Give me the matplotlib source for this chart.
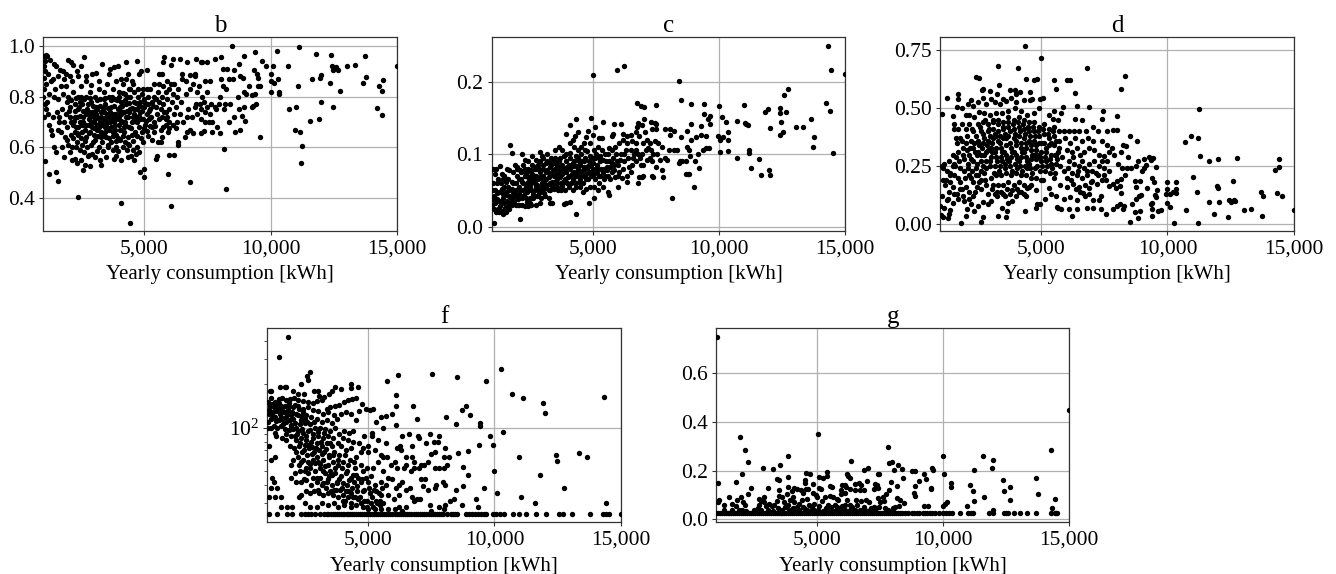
import matplotlib
matplotlib.use('Agg')
import matplotlib.pyplot as plt
import numpy as np
from matplotlib.ticker import NullFormatter, StrMethodFormatter

plt.rcParams['font.family'] = ['Liberation Serif', 'DejaVu Serif']

# Values: (yearly consumption, metric)
b_points = [
 (8480,1.0),(11120,.997),(10260,.98),(9400,.977),(11800,.97),(12400,.965),(13730,.96),(10700,.922),(12430,.922),(12450,.905),(12600,.915),(12650,.905),
 (13040,.92),(13330,.925),(15000,.92),(11620,.868),(11950,.873),(12000,.885),(13760,.876),(14450,.866),(14300,.84),(14400,.823),(13660,.853),(12370,.855),
 (12750,.822),(11070,.84),(12000,.78),(10720,.75),(11000,.76),(12450,.76),(14220,.756),(14400,.728),(11930,.712),(11570,.703),(10970,.667),(11180,.66),
 (11260,.607),(11210,.537),(9580,.64),(8240,.435),(8150,.593),(6800,.465),(6080,.37),(5950,.495),(4430,.302),(4090,.381),(2400,.405),(1580,.466),(1530,.503),
 (1220,.496),(1060,.546),(5000,.513),(5000,.482),(4830,.502),(6200,.57),(6000,.57),(10000,.82),(10000,.89),(10100,.92),(10030,.86),(10150,.855),(10300,.87),
 (10320,.82),(10330,.81),(9800,.92),(9650,.94),(9470,.89),(9350,.905),(9500,.875),(9520,.84),(9600,.84),(9400,.81),(9280,.805),(9320,.765),(9420,.77),
 (9260,.76),(8950,.76),(9000,.705),(8760,.75),(8870,.725),(8600,.66),(8780,.668),(8550,.72),(8350,.7),(8700,.8),(9030,.81),(8950,.82),(8750,.93),(8930,.96),
 (8560,.905),(8360,.87),(8500,.87),(8100,.91),(8280,.91),(8050,.955),(7800,.95),(8900,.875),(8800,.88),(9150,.84),(8250,.83),(8050,.87),(8100,.84),(8000,.80),
 (8200,.77),(8400,.77),(8150,.75),(7900,.68),(7700,.70),(7550,.70),(7400,.70),(7250,.71),(7100,.73),(7950,.77),(7800,.76),(7650,.77),(7500,.76),(7350,.78),
 (7200,.77),(7050,.77),(7850,.75),(7600,.73),(7400,.74),(7250,.75),(7000,.76),(7700,.66),(8000,.655),(7350,.665),(7250,.655),(6950,.655),(6800,.67),(6700,.66),
 (6600,.64),(6350,.62),(6320,.61),(6900,.72),(6700,.72),(6550,.70),(6750,.75),(7100,.82),(7300,.80),(7500,.82),(7600,.86),(7400,.86),(7150,.84),(6950,.85),
 (6800,.83),(6650,.81),(7000,.89),(7000,.88),(6800,.885),(6650,.86),(6500,.89),(6700,.935),(7500,.935),(7300,.937),(7230,.937),(7040,.95),(6400,.95),(6130,.95),
 (5800,.955),(6050,.925),(5750,.935),(5700,.89),(5600,.89),(5100,.905),(4870,.90),(4800,.89),(4700,.94),(4300,.935),(6500,.87),(6350,.83),(6200,.85),(6050,.85),
 (5900,.86),(5750,.84),(5600,.85),(5400,.85),(5250,.83),(5100,.83),(4950,.83),(6300,.80),(6150,.81),(6000,.83),(5850,.82),(5700,.80),(5550,.82),(5400,.80),
 (6450,.78),(6250,.76),(6100,.78),(5900,.79),(5750,.77),(5600,.78),(5450,.76),(6400,.73),(6200,.73),(6000,.75),(5850,.74),(5650,.75),(5500,.73),(6300,.70),
 (6150,.69),(6000,.70),(5850,.71),(5700,.72),(6250,.675),(6000,.675),(5850,.69),(5750,.68),(5700,.64),(5550,.62),(5500,.565),(5450,.555),(5950,.66),(5650,.62),
 (5400,.66),(5300,.63),(5150,.645),(4950,.62),(5300,.68),(5400,.70),(5200,.71),(5050,.69),(4900,.66),(5250,.75),(5100,.73),(4950,.71),(4800,.68),(5300,.78),
 (5150,.77),(5000,.76),(4850,.74),(4700,.70),(5150,.80),(5000,.79),(4850,.78),(4700,.75),(4550,.72),(4400,.68),(4900,.81),(4750,.80),(4600,.78),(4450,.75),
 (4300,.72),(4150,.70),(4750,.83),(4600,.82),(4450,.80),(4300,.77),(4150,.74),(4000,.72),(3850,.69),(4550,.85),(4400,.83),(4250,.81),(4100,.78),(3950,.75),
 (3800,.73),(3650,.70),(4300,.87),(4150,.85),(4000,.82),(3850,.79),(3700,.76),(3550,.73),(3400,.71),(3900,.86),(3750,.83),(3600,.80),(3450,.77),(3300,.74),
 (3150,.72),(3000,.70),(3550,.85),(3400,.82),(3250,.79),(3100,.76),(2950,.74),(2800,.71),(2650,.69),(3200,.83),(3050,.80),(2900,.78),(2750,.75),(2600,.72),
 (2450,.70),(2300,.68),(2850,.82),(2700,.80),(2550,.77),(2400,.75),(2250,.72),(2100,.70),(1950,.68),(4650,.66),(4500,.65),(4350,.64),(4200,.66),(4050,.67),
 (3900,.65),(3750,.66),(3600,.67),(3450,.68),(3300,.66),(3150,.67),(3000,.65),(2850,.66),(2700,.64),(2550,.66),(2400,.65),(2250,.66),(2100,.65),(1950,.63),
 (4700,.60),(4550,.59),(4400,.61),(4250,.62),(4050,.63),(3900,.60),(3700,.62),(3500,.64),(3350,.62),(3200,.60),(3050,.63),(2900,.61),(2750,.60),(2550,.61),
 (2350,.62),(2150,.60),(2000,.61),(4800,.58),(4600,.55),(4350,.56),(4100,.55),(3900,.565),(3800,.555),(3500,.56),(3300,.53),(3250,.55),(3050,.56),(2850,.525),
 (2800,.57),(2650,.53),(2600,.51),(2500,.55),(2350,.54),(2250,.555),(2150,.55),(2050,.58),(1850,.56),(1500,.58),(1750,.60),(1450,.60),(1350,.65),(1250,.69),
 (1300,.67),(1600,.67),(1650,.70),(1400,.72),(1550,.74),(1750,.75),(1900,.73),(2050,.76),(2250,.77),(2450,.78),(1200,.73),(1100,.75),(1020,.72),(1060,.77),
 (1150,.78),(1000,.80),(1240,.81),(1420,.80),(1600,.79),(1800,.81),(2000,.80),(2200,.82),(2500,.84),(2700,.86),(2950,.89),(3100,.895),(1050,.83),(1100,.85),
 (1300,.86),(1480,.83),(1700,.84),(1900,.84),(2150,.86),(2400,.88),(2700,.88),(1020,.875),(1200,.89),(1380,.87),(1600,.88),(1850,.87),(2050,.88),(2350,.90),
 (1040,.96),(1080,.94),(1100,.965),(1170,.96),(1030,.92),(1080,.90),(1290,.945),(1420,.93),(1520,.92),(1660,.905),(1800,.90),(1900,.89),(2000,.945),(2100,.935),
 (2200,.925),(2640,.955),(2500,.92),(3350,.93),(3650,.91),(3800,.915),(3950,.92),(3600,.89),(4100,.87),(4350,.89),(4520,.86),(2900,.845),(3200,.86),
 (2500,.80),(2350,.72),(2700,.73),(2800,.74),(2950,.68),(3100,.73),(3250,.70),(3350,.69),(3500,.72),(3650,.74),(3800,.70),(3950,.71),(4100,.73),(4250,.70),
 (4400,.74),(4600,.73),(2600,.70),(2850,.72),(3050,.71),(3200,.68),(3400,.74),(3550,.70),(3700,.68),(3900,.73),(4050,.76),(4200,.74),(4350,.72),(4500,.70),
 (4700,.72),(4850,.71),(2200,.69),(2400,.68),(2650,.67),(2900,.70),(3150,.75),(3300,.72),(3450,.66),(3600,.72),(3750,.71),(3850,.67),(4000,.69),(4200,.68),
]
b_core = [
 (2030,.745),(2120,.785),(2210,.705),(2290,.795),(2330,.655),(2420,.76),(2480,.725),(2510,.635),(2570,.745),(2630,.79),(2660,.625),(2720,.69),(2770,.77),(2810,.655),(2870,.795),(2920,.725),
 (2970,.765),(3020,.675),(3070,.745),(3120,.785),(3160,.645),(3210,.715),(3270,.765),(3320,.695),(3370,.755),(3420,.645),(3470,.795),(3510,.685),(3570,.755),(3620,.635),(3680,.785),(3720,.725),
 (3770,.645),(3820,.765),(3870,.715),(3920,.785),(3980,.635),(4030,.745),(4080,.705),(4130,.765),(4170,.645),(4230,.785),(4280,.685),(4330,.745),(4380,.615),(4420,.775),(4480,.675),(4530,.755),
 (4570,.625),(4630,.705),(4680,.775),(4730,.645),(4780,.725),(4830,.765),(4880,.635),(4930,.745),(4980,.675),(5030,.775),(5080,.705),(5130,.665),(5180,.745),(5230,.685),(5280,.72),(5350,.765),
 (5430,.685),(5480,.79),(5580,.71),(5660,.67),(5780,.74),(5920,.72),(2180,.635),(2280,.745),(2380,.80),(2540,.69),(2680,.745),(2820,.69),(2990,.62),(3130,.69),(3280,.64),(3430,.79),(3590,.61),
 (3730,.80),(3880,.625),(4010,.80),(4160,.815),(4320,.80),(4460,.83),(4610,.75),(4760,.77),(1950,.78),(1830,.70),(1700,.66),(1880,.64),(2080,.72),(1620,.72),(2300,.60),(2470,.59),(2640,.58),(2780,.565),
 (2950,.575),(3130,.585),(3380,.585),(3570,.60),(3780,.59),(3970,.585),(4170,.60),(4330,.59),(4480,.565),(4660,.575),
]
c_points = [
 (14300,.249),(14420,.216),(15000,.211),(6230,.221),(5950,.216),(5000,.209),(8400,.201),(12750,.19),(12580,.181),(8480,.174),(6750,.171),(6920,.166),(7030,.165),
 (7500,.168),(8900,.169),(9400,.169),(10000,.166),(11000,.167),(14250,.17),(14400,.16),(11830,.158),(11950,.162),(12430,.163),(12420,.157),(12660,.158),
 (10120,.151),(9630,.152),(9400,.155),(9550,.148),(13640,.149),(10700,.145),(11020,.143),(11080,.141),(11160,.14),(12020,.136),(12450,.144),(13030,.137),
 (13330,.138),(10260,.144),(9650,.142),(9300,.139),(8900,.142),(7040,.148),(6800,.143),(6750,.137),(6950,.14),(7300,.144),(7500,.142),(7450,.143),(4920,.15),
 (4350,.148),(5100,.137),(5400,.144),(5850,.141),(6100,.142),(4100,.14),(3950,.128),(4400,.13),(4300,.125),(4200,.12),(4800,.132),(5000,.127),(4750,.123),
 (4650,.115),(5250,.122),(5350,.122),(5800,.128),(5750,.125),(6200,.128),(6350,.125),(6500,.126),(6700,.13),(7050,.13),(7350,.135),(7500,.134),(7850,.135),
 (8050,.135),(8200,.132),(8720,.132),(8050,.127),(8500,.124),(9300,.127),(9480,.125),(9100,.124),(9950,.125),(10030,.12),(10150,.123),(10350,.13),(10340,.12),
 (10350,.104),(10020,.103),(12420,.127),(12520,.13),(13780,.123),(13720,.11),(14520,.102),(11190,.106),(11190,.101),(10720,.095),(11600,.093),(11250,.081),
 (11650,.071),(11970,.078),(12020,.071),(8150,.039),(9000,.055),(8830,.073),(8700,.073),(8760,.072),(9220,.081),(9030,.09),(9380,.105),(9500,.108),(9620,.108),
 (9170,.1),(8800,.105),(8850,.098),(8900,.12),(8720,.11),(8450,.09),(8540,.091),(8400,.088),(8700,.09),(8350,.105),(8200,.105),(8000,.105),(7850,.095),(7950,.092),
 (7750,.11),(7600,.115),(7450,.118),(7300,.105),(7150,.12),(7000,.115),(6850,.125),(6700,.115),(6550,.118),(7400,.10),(7250,.095),(7100,.105),(6950,.10),(6800,.10),
 (6650,.10),(6500,.105),(6350,.115),(6200,.12),(6050,.115),(5900,.11),(5750,.105),(5600,.10),(7350,.09),(7150,.092),(7000,.085),(7500,.082),(7750,.078),(7800,.069),
 (7400,.068),(7350,.07),(6950,.068),(6850,.068),(6800,.06),(7000,.07),(6900,.085),(6700,.09),(6550,.085),(6400,.095),(6250,.10),(6100,.10),(5950,.09),(5800,.095),
 (5650,.09),(5500,.10),(5350,.105),(5200,.11),(5050,.105),(4900,.115),(4700,.105),(4550,.11),(4400,.105),(4250,.11),(4100,.115),(3950,.10),(3800,.105),(3650,.11),
 (3500,.105),(3350,.095),(3200,.10),(3050,.095),(2900,.103),(2750,.092),(2600,.098),(2450,.09),(2300,.092),(2200,.10),(6500,.075),(6350,.07),(6350,.062),(6200,.08),
 (6050,.075),(5900,.068),(5750,.075),(5600,.07),(5450,.08),(5300,.09),(5150,.085),(5000,.095),(4850,.09),(4700,.095),(4550,.09),(4400,.095),(4250,.09),(4100,.095),
 (3950,.09),(3800,.085),(3650,.09),(3500,.095),(3350,.085),(3200,.09),(3050,.085),(2900,.09),(2750,.08),(2600,.085),(2450,.08),(2300,.08),(2150,.075),(2000,.08),
 (6000,.054),(5650,.043),(5600,.048),(5450,.065),(5300,.07),(5150,.075),(5000,.08),(4850,.075),(4700,.08),(4550,.075),(4400,.08),(4250,.075),(4100,.08),(3950,.075),
 (3800,.072),(3650,.078),(3500,.08),(3350,.072),(3200,.078),(3050,.07),(2900,.075),(2750,.07),(2600,.072),(2450,.068),(2300,.07),(2150,.065),(2000,.07),(1850,.075),
 (1700,.078),(5400,.055),(5250,.06),(5100,.065),(4950,.07),(4800,.065),(4650,.07),(4500,.065),(4350,.07),(4200,.065),(4050,.07),(3900,.065),(3750,.06),(3600,.065),
 (3450,.07),(3300,.06),(3150,.065),(3000,.06),(2850,.065),(2700,.06),(2550,.06),(2400,.058),(2250,.06),(2100,.055),(1950,.06),(1800,.062),(1650,.065),(1500,.07),
 (5050,.04),(4850,.032),(4600,.048),(4750,.052),(4500,.055),(4350,.055),(4200,.05),(4050,.055),(3900,.05),(3750,.05),(3600,.055),(3450,.052),(3300,.05),(3150,.053),
 (3000,.05),(2850,.052),(2700,.05),(2550,.05),(2400,.048),(2250,.05),(2100,.045),(1950,.05),(1800,.052),(1650,.055),(1500,.055),(1350,.06),(1200,.06),(1050,.06),
 (4100,.034),(3950,.032),(3850,.031),(4340,.017),(2120,.01),(1100,.005),(3400,.032),(3250,.04),(3100,.042),(2950,.04),(2800,.042),(2650,.04),(2500,.04),(2350,.04),
 (2200,.04),(2050,.038),(1900,.042),(1750,.04),(1600,.043),(1450,.045),(1300,.048),(1150,.05),(1020,.05),(3300,.032),(2900,.032),(2750,.03),(2550,.03),(2450,.028),
 (2300,.028),(2100,.03),(1950,.03),(1800,.03),(1650,.028),(1500,.033),(1350,.035),(1200,.038),(1050,.038),(1400,.022),(1550,.02),(1250,.025),(1100,.025),(1030,.03),
 (1180,.02),(1300,.02),(1450,.018),(1700,.024),(1050,.08),(1180,.08),(1340,.084),(1470,.07),(1450,.065),(1600,.08),(1730,.113),(1820,.102),(1930,.085),(2000,.082),
 (2120,.078),(2250,.085),(2400,.075),(2550,.07),(2700,.08),(2850,.085),(3000,.098),(3150,.075),(3300,.082),(3450,.09),(3600,.085),(3750,.082),(3900,.08),(4050,.085),
 (4200,.083),(4350,.083),(4500,.085),(4650,.082),(4800,.082),(4950,.085),(5100,.095),(5250,.095),(5400,.075),(5550,.082),(5700,.082),(5850,.085),(6000,.085),
 (2350,.055),(2500,.065),(2650,.067),(2800,.058),(2950,.067),(3100,.058),(3250,.068),(3400,.062),(3550,.073),(3700,.068),(3850,.075),(4000,.06),(4150,.06),(4300,.06),
 (4450,.062),(4600,.06),(4750,.072),(4900,.055),(5050,.055),(5200,.05),
]
c_core = [
 (1090,.042),(1140,.032),(1210,.047),(1270,.036),(1330,.028),(1390,.052),(1440,.04),(1510,.026),(1570,.048),(1620,.036),(1690,.05),(1760,.033),(1830,.047),(1880,.036),(1960,.043),(2030,.03),
 (2080,.066),(2140,.05),(2200,.062),(2270,.044),(2330,.076),(2380,.034),(2440,.062),(2510,.054),(2570,.078),(2630,.045),(2680,.066),(2740,.056),(2790,.084),(2860,.046),(2920,.068),(2980,.056),
 (3030,.08),(3080,.047),(3140,.088),(3190,.058),(3260,.074),(3310,.088),(3370,.056),(3430,.078),(3480,.062),(3540,.086),(3600,.06),(3660,.072),(3710,.094),(3770,.056),(3820,.079),(3880,.098),
 (3930,.062),(3990,.082),(4040,.068),(4090,.101),(4160,.072),(4210,.088),(4270,.062),(4320,.098),(4380,.075),(4440,.09),(4490,.07),(4540,.1),(4610,.078),(4670,.09),(4720,.066),(4780,.104),
 (4830,.083),(4890,.098),(4940,.076),(5010,.088),(5060,.072),(5120,.1),(5170,.081),(5230,.07),(5290,.098),(5340,.08),(5410,.092),(5470,.07),(5520,.09),(5580,.078),(5640,.108),(5700,.065),
 (5780,.088),(5840,.078),(5920,.1),(6000,.07),(6080,.092),(6150,.067),(6230,.09),(6320,.105),(6420,.082),(6580,.095),(6720,.105),(6860,.095),(7200,.108),(7280,.115),(7550,.1),(7680,.092),
 (1120,.072),(1260,.066),(1400,.072),(1560,.062),(1680,.042),(1840,.06),(1990,.042),(2180,.03),(2360,.052),(2520,.032),(2700,.07),(2890,.08),(3070,.062),(3280,.05),(3460,.06),(3640,.05),(3830,.062),
]
d_points = [
 (4350,.77),(5000,.715),(3300,.68),(4060,.675),(6820,.675),(8300,.64),(2400,.635),(2550,.63),(4400,.625),(4700,.62),(4850,.625),(5500,.62),(6000,.62),(6120,.62),
 (3330,.60),(5570,.585),(8150,.585),(6350,.565),(1720,.56),(2680,.585),(2650,.58),(2950,.575),(3250,.56),(3750,.58),(3950,.58),(4150,.57),(4550,.57),(4000,.56),
 (1250,.545),(1720,.54),(2200,.535),(2680,.545),(3000,.54),(3500,.54),(3800,.545),(4650,.54),(4950,.54),(5050,.545),(6400,.51),(6900,.505),(7450,.49),(5850,.505),
 (1050,.475),(1500,.465),(1650,.505),(1850,.50),(2100,.52),(2300,.51),(2500,.525),(2800,.52),(3150,.525),(3350,.52),(3600,.53),(4000,.525),(4300,.535),(4550,.535),
 (4900,.50),(5500,.49),(5800,.48),(6350,.455),(6600,.45),(7400,.455),(8000,.465),(11250,.495),(1550,.43),(1550,.41),(1620,.37),(1650,.35),(1850,.43),(2000,.47),
 (2150,.47),(2350,.46),(2550,.485),(2750,.48),(2950,.47),(3200,.48),(3450,.48),(3700,.49),(3950,.50),(4200,.49),(4450,.47),(4700,.48),(5300,.47),(5450,.455),(5650,.45),
 (5900,.40),(6100,.40),(6300,.40),(6500,.40),(6780,.40),(7050,.42),(7250,.40),(7600,.40),(7850,.405),(8000,.405),(8500,.38),(8250,.34),(8800,.36),(8350,.335),
 (10950,.38),(10700,.355),(11200,.37),(11300,.295),(11650,.27),(12000,.28),(12750,.285),(14420,.28),(14400,.245),(14250,.235),(14320,.135),(14520,.12),(13720,.14),
 (13800,.12),(13740,.035),(13300,.065),(13030,.06),(15000,.06),(12580,.185),(12420,.105),(12500,.095),(12650,.105),(12680,.10),(12400,.03),(12030,.095),(12020,.155),
 (11980,.165),(11830,.045),(11630,.095),(11220,.005),(11150,.14),(11000,.205),(10720,.06),(10250,.005),(10350,.18),(10350,.15),(10320,.135),(10230,.14),(10080,.13),
 (10000,.18),(10000,.15),(9950,.13),(10000,.09),(10100,.075),(9600,.145),(9550,.245),(9430,.285),(9350,.275),(9270,.29),(9150,.255),(9380,.20),(9450,.18),(9500,.125),
 (9550,.115),(9620,.055),(9750,.06),(9400,.09),(9350,.085),(9390,.065),(9400,.035),(8850,.025),(8930,.055),(8700,.05),(8520,.01),(8600,.085),(8750,.11),(8860,.12),
 (8950,.125),(9180,.155),(8760,.16),(8930,.185),(8700,.185),(9000,.23),(9050,.24),(8850,.27),(9050,.28),(8760,.25),(8430,.29),(8550,.24),(8400,.24),(8200,.24),
 (8300,.21),(8150,.195),(8000,.185),(7950,.155),(8100,.165),(8150,.135),(8280,.08),(8100,.085),(8000,.08),(7830,.065),(8250,.065),(7570,.045),(7350,.065),(7050,.105),
 (7300,.105),(7350,.12),(7050,.07),(6820,.07),(6430,.065),(6220,.035),(6100,.065),(5800,.065),(5680,.07),(5630,.075),(5400,.13),(4950,.085),(4850,.085),(4800,.07),
 (4350,.055),(3650,.055),(3600,.03),(3300,.035),(2620,.01),(2700,.03),(1830,.005),(2000,.035),(1100,.03),(1300,.025),(1150,.07),(1400,.06),(1000,.08),(1350,.045),
 (1040,.04),(1250,.105),(1500,.09),(1700,.11),(1900,.12),(2050,.065),(2200,.085),(2350,.055),(2500,.08),(2700,.095),(2900,.085),(3000,.10),(3250,.12),(3450,.07),
 (3500,.13),(3700,.09),(3850,.10),(4100,.14),(4300,.13),(4450,.155),(4600,.17),(4800,.145),(5050,.19),(5150,.11),(5300,.155),(5500,.20),(5600,.12),(5750,.17),(5900,.11),
 (6000,.16),(6120,.115),(6250,.175),(6400,.105),(6500,.16),(6650,.135),(6750,.12),(6900,.155),(7000,.185),(7200,.175),(7400,.19),(7550,.19),(7700,.165),(7850,.175),
 (6000,.32),(6200,.31),(6400,.33),(6550,.30),(6700,.31),(6900,.33),(7100,.32),(7300,.30),(7500,.295),(7700,.31),(7900,.30),(8050,.26),(8150,.31),(6100,.27),(6300,.26),
 (6500,.25),(6700,.24),(6900,.26),(7100,.27),(7300,.25),(7500,.24),(7700,.23),(6200,.22),(6400,.21),(6600,.20),(6800,.21),(7000,.23),(7250,.21),(7500,.21),(5950,.37),
 (6150,.35),(6350,.37),(6600,.36),(6850,.37),(7050,.36),(7400,.36),(7600,.34),(7800,.33),
 (1050,.25),(1150,.26),(1250,.23),(1400,.22),(1550,.21),(1700,.20),(1800,.18),(1100,.19),(1200,.17),(1350,.14),(1500,.16),(1650,.13),(1850,.15),(2000,.16),(2150,.14),
 (2300,.18),(2450,.16),(2600,.19),(1050,.12),(1300,.11),(1600,.25),(1350,.27),(1500,.30),(1700,.31),(1900,.33),(1850,.36),(2050,.38),(2000,.41),(2150,.43),(2300,.40),
 (2500,.43),(2700,.44),(2900,.43),(3100,.45),(3300,.45),(3500,.44),(3700,.46),(3900,.45),(4100,.46),(4300,.45),(4500,.44),(4700,.44),(4900,.42),(5100,.43),(5300,.41),
 (5500,.42),(5700,.40),(1950,.28),(2150,.30),(2300,.33),(2500,.36),(2700,.39),(2900,.40),(3100,.41),(3300,.40),(3500,.41),(3700,.42),(3900,.41),(4100,.42),(4300,.41),
 (4500,.40),(4700,.40),(4900,.38),(5100,.39),(5300,.37),(5500,.38),(5700,.36),(2100,.24),(2300,.27),(2500,.31),(2700,.35),(2900,.36),(3100,.37),(3300,.36),(3500,.37),
 (3700,.38),(3900,.37),(4100,.38),(4300,.37),(4500,.36),(4700,.36),(4900,.35),(5100,.35),(5300,.34),(5500,.34),(5700,.33),(2200,.20),(2400,.24),(2600,.27),(2800,.31),
 (3000,.33),(3200,.33),(3400,.33),(3600,.34),(3800,.33),(4000,.34),(4200,.33),(4400,.33),(4600,.32),(4800,.32),(5000,.31),(5200,.31),(5400,.30),(5600,.30),(2400,.21),
 (2600,.23),(2800,.27),(3000,.29),(3200,.29),(3400,.29),(3600,.30),(3800,.29),(4000,.30),(4200,.29),(4400,.29),(4600,.28),(4800,.28),(5000,.27),(5200,.27),(5400,.26),
 (5600,.26),(2550,.18),(2750,.22),(2950,.25),(3150,.25),(3350,.25),(3550,.26),(3750,.25),(3950,.26),(4150,.25),(4350,.25),(4550,.24),(4750,.24),(4950,.23),(5150,.23),
 (5350,.22),(5550,.22),(2800,.17),(3000,.20),(3200,.21),(3400,.21),(3600,.22),(3800,.21),(4000,.22),(4200,.21),(4400,.21),(4600,.20),(4800,.20),(5000,.19),(3050,.15),
 (3300,.17),(3500,.17),(3700,.18),(3900,.17),(4100,.18),(4300,.17),(4500,.16),(3150,.13),(3400,.14),(3650,.15),(3850,.145),(4050,.15),
 (2650,.33),(2850,.34),(3050,.31),(3250,.27),(3450,.31),(3650,.28),(3850,.31),(4050,.28),(4250,.31),(4450,.27),(4650,.30),(4850,.30),(2600,.40),(2750,.30),(2950,.38),
 (3150,.39),(3350,.38),(3550,.39),(3750,.40),(3950,.39),(4150,.40),(4350,.39),(4550,.38),(4750,.38),(2450,.30),(2350,.35),(2200,.36),(2050,.32),(1750,.27),(1550,.26),
]
d_core = [
 (2220,.28),(2260,.41),(2380,.31),(2410,.38),(2470,.26),(2540,.34),(2590,.42),(2620,.30),(2680,.25),(2730,.37),(2770,.45),(2820,.24),(2880,.32),(2930,.41),(2980,.27),(3030,.35),(3070,.44),(3120,.22),
 (3180,.31),(3220,.38),(3280,.43),(3320,.23),(3380,.35),(3430,.27),(3470,.42),(3530,.31),(3580,.24),(3620,.37),(3680,.44),(3720,.27),(3780,.35),(3830,.23),(3870,.43),(3920,.31),(3980,.36),(4030,.24),
 (4070,.44),(4120,.27),(4180,.35),(4230,.23),(4280,.43),(4320,.31),(4380,.35),(4430,.24),(4470,.42),(4520,.26),(4580,.34),(4630,.22),(4680,.42),(4720,.30),(4780,.34),(4830,.25),(4880,.40),(4930,.29),
 (4980,.35),(5030,.25),(5080,.41),(5130,.29),(5180,.33),(5230,.25),(5280,.39),(5330,.28),(5380,.35),(5430,.24),(5480,.40),(5530,.30),(5580,.36),(5630,.28),(5680,.31),(5750,.25),(5830,.29),(5910,.23),
 (2080,.26),(1930,.23),(1780,.24),(1640,.29),(1490,.25),(1370,.21),(1230,.19),(1120,.24),(1880,.30),(2030,.35),(2170,.33),(1790,.37),(1700,.41),(1960,.20),(2120,.21),(2270,.23),(2370,.14),(2480,.21),
 (2630,.15),(2770,.19),(2870,.13),(3100,.17),(3260,.14),(3570,.12),(3770,.13),(4000,.12),(4200,.14),(4400,.12),(1400,.18),(1560,.13),(1780,.15),(1950,.10),(2130,.11),(2280,.12),
 (6050,.24),(6250,.29),(6450,.23),(6620,.27),(6800,.23),(6970,.18),(7180,.22),(7400,.27),(7600,.27),(6000,.20),(6180,.19),(6370,.15),(6530,.14),(6720,.17),(6880,.13),
]
f_floor_x = [1070,1390,1785,1995,2350,2490,2620,2750,2880,3080,3250,3350,3420,3510,3600,3680,3760,3830,3910,3990,4050,4140,4210,4290,4370,4450,4520,4590,4670,4750,4830,
 4920,4990,5060,5140,5230,5310,5390,5470,5540,5630,5710,5790,5870,5950,6040,6120,6200,6290,6370,6460,6540,6630,6710,6800,6890,6960,7050,7130,7210,7300,7390,7470,7550,
 7640,7720,7810,7890,7980,8130,8260,8340,8450,8530,8870,8980,9100,9240,9330,9450,9570,9670,9950,10070,10200,10370,10730,10970,11240,11640,12040,12560,12700,13080,13770,
 14310,14430,14530,15000]
f_floor_y = [25.3] * len(f_floor_x)
f_points = [
 (1825,426),(1455,311),(2710,243),(2580,227),(2620,213),(2350,199),(1760,192),(1500,192),(1690,192),(6160,230),(5740,210),(7540,234),(8520,224),(9670,210),(10250,253),
 (10680,172),(11110,161),(11930,149),(12010,127),(14330,163),(6080,168),(6080,140),(6790,140),(8860,141),(8730,132),(9030,122),(8080,118),(8470,105),(6920,114),(9420,108),
 (9420,102),(10330,93),(9830,88),(9370,76),(9960,76),(8970,69),(8550,67),(10980,62),(12420,65),(12490,59),(13330,67),(13650,62),(9990,50),(8940,47),(11800,47),(12740,38),
 (9590,38),(10080,35),(11070,33),(11590,30),(14420,30),(9260,32),(9340,28),(8720,29),(8750,39),(8480,37),(8770,53),(8040,40),(7980,42),(6080,104),(5700,120),(5500,118),(5600,100),
 (5950,125),(5300,110),(4900,135),(5200,135),(5050,132),(4750,145),(4600,190),(4320,200),(4320,188),(3900,185),(3700,190),(3550,180),(3450,172),(3000,178),(2850,178),(2450,170),
 (2200,172),(2000,178),(1100,180),(1150,178),(3050,165),(3250,162),(4500,160),(4350,158),(4200,155),(4050,150),(3850,143),(3700,140),(3500,138),(3350,135),(3150,155),(2950,152),
 (2800,148),(2600,150),(2400,152),(2200,155),(2050,160),(1900,158),(1750,155),(1600,160),(1450,158),(1300,150),(1150,160),(1030,150),(1100,140),(1250,138),(1400,145),(1550,140),
 (1700,142),(1850,140),(2000,138),(2200,140),(2400,135),(2600,138),(2800,132),(3000,130),(3200,125),(3400,128),(3650,122),(3900,125),(4100,128),(4300,125),(4500,112),(4650,130),
 (1050,125),(1200,128),(1350,130),(1500,125),(1650,128),(1800,125),(1950,122),(2150,125),(2350,120),(2550,122),(2750,118),(2950,115),(3150,110),(3350,112),(3550,108),(3750,115),
 (1030,110),(1150,115),(1300,118),(1450,112),(1600,115),(1750,110),(1900,112),(2100,108),(2300,105),(2500,108),(2700,105),(2900,100),(3100,100),(3300,98),(3500,95),(3700,100),
 (1020,100),(1130,100),(1250,102),(1400,100),(1550,102),(1700,98),(2000,98),(2200,95),(2400,92),(2600,95),(2800,90),(3000,88),(3200,85),(3400,88),(3600,85),(3850,90),(4050,95),
 (4250,92),(4400,94),(1300,92),(1350,88),(1600,85),(1750,82),(1950,88),(2150,82),(2350,85),(2550,82),(2750,80),(2950,78),(3150,75),(3350,78),(3550,75),(3800,78),(4000,85),(4200,82),
 (4400,80),(4650,78),(4850,88),(5150,92),(5150,88),(5400,82),(5700,78),(5000,75),(4800,72),(1050,75),(1900,75),(2050,72),(2250,75),(2450,70),(2650,72),(2850,68),(3050,70),(3250,68),
 (3450,65),(3650,68),(3850,65),(4100,70),(4300,72),(4500,62),(4700,68),(5000,68),(5250,70),(5500,65),(5600,62),(5750,62),(6050,58),(6150,72),(6250,75),(6300,70),(6500,62),(6600,90),
 (6350,88),(6750,75),(7000,85),(6980,88),(7450,90),(7300,78),(7600,80),(7800,88),(7750,80),(7500,66),(7650,68),(7350,58),(7200,55),(7100,55),(8020,72),(8000,62),(8200,62),(8100,55),
 (7650,52),(7800,52),(8000,52),(6500,55),(6400,52),(6150,52),(5900,55),(6700,50),(6820,52),(7000,52),(6750,62),(6800,58),(1150,60),(1300,62),(2000,60),(1950,55),(2200,62),(2400,60),
 (2600,58),(2800,60),(3000,58),(3200,60),(3400,55),(3600,58),(3800,55),(4000,58),(4200,55),(4450,58),(4700,55),(4950,52),(5200,52),(5400,58),(5600,50),(5800,45),(2100,48),(2300,50),
 (2500,50),(2700,52),(2900,50),(3100,52),(3300,48),(3500,50),(3700,48),(3900,46),(4100,48),(4300,45),(4500,47),(4750,44),(5000,42),(5250,40),(5500,42),(5700,40),(5950,44),(6200,40),
 (6350,42),(6100,38),(1200,45),(1250,42),(1950,45),(2150,42),(2350,42),(2550,43),(2750,40),(2950,42),(3150,40),(3350,42),(3550,40),(3750,41),(3950,38),(4150,40),(4350,38),(4550,39),
 (4800,36),(5050,35),(5300,36),(5500,34),(5800,34),(6000,32),(6200,34),(6500,37),(6650,38),(6750,33),(7100,44),(7250,44),(7150,39),(7350,37),(7650,38),(7700,40),(1150,38),(1390,38),
 (1080,33),(1310,33),(1550,33),(2250,33),(2350,34),(2550,36),(2700,35),(2850,36),(3050,35),(3200,34),(3400,35),(3600,34),(3800,33),(4000,34),(4200,33),(4400,33),(4600,32),(4850,31),
 (5100,30),(5350,30),(5600,30),(6200,28),(6500,28),(6800,31),(6950,32),(7050,32),(7450,29),(7800,28),(8050,29),(8250,31),(8400,32),(1530,28),(1800,28),(1980,28),(2500,30),(2700,28),
 (2950,28),(3150,30),(3400,29),(3650,30),(3800,28),(4050,29),(4300,28),(4500,29),(4800,28),(5000,27),(5250,27),(5500,27),(5800,27),(6050,27),(6350,26.5),(7500,26.5),(8000,27),
]
f_core = [
 (1080,133),(1170,146),(1220,121),(1290,141),(1360,111),(1430,134),(1480,148),(1530,118),(1590,132),(1640,106),(1700,128),(1760,118),(1820,133),(1870,147),(1930,104),(1980,129),(2030,115),(2100,144),
 (2140,99),(2210,123),(2260,135),(2320,112),(2370,97),(2420,128),(2480,115),(2540,88),(2590,109),(2630,76),(2700,96),(2760,66),(2810,85),(2860,110),(2920,72),(2980,62),(3020,93),(3080,56),(3120,80),
 (3180,66),(3240,92),(3280,54),(3340,71),(3390,44),(3440,62),(3500,78),(3560,47),(3610,64),(3680,52),(3730,37),(3790,60),(3850,44),(3900,75),(3950,52),(4000,41),(4060,65),(4120,36),(4160,50),(4230,43),
 (4270,60),(4330,35),(4380,47),(4440,42),(4490,52),(4540,36),(4600,45),(4660,33),(4720,42),(4780,50),(4840,37),(4900,45),(4960,31),(5020,38),(5090,46),(5160,33),(5240,37),(5320,31),(5410,35),(5480,31),(5560,38),
 (2080,88),(2180,90),(2280,78),(2380,68),(2480,76),(2580,65),(2680,56),(2780,73),(2880,57),(2980,45),(3100,45),(3200,50),(3320,38),(3430,46),(3540,36),(3660,37),(3780,42),(3880,37),(3980,31),(4080,31),(4180,36),
 (4330,30),(4480,33),(4700,30),(4950,28),(5200,28),(5450,29),(2250,55),(2450,44),(2620,48),(2820,45),(3020,37),(3220,41),(2150,68),(2350,58),(2540,52),(1760,90),(1850,96),(1950,103),
]
g_floor_x = [1000,1080,1150,1230,1300,1380,1460,1530,1610,1690,1770,1840,1920,2000,2080,2150,2230,2310,2390,2470,2540,2620,2700,2780,2850,2930,3010,3090,3170,3240,3320,3400,3480,3560,
 3630,3710,3790,3870,3950,4020,4100,4180,4260,4340,4410,4490,4570,4650,4730,4800,4880,4960,5040,5120,5190,5270,5350,5430,5510,5590,5670,5750,5830,5910,5990,6070,6150,6230,6310,6390,
 6470,6550,6630,6710,6790,6870,6950,7030,7110,7190,7270,7350,7430,7510,7590,7670,7750,7830,7910,7990,8070,8150,8230,8310,8390,8470,8600,8780,8860,8950,9050,9200,9300,9370,9480,9560,
 9660,9850,10000,10120,10220,10370,10670,11000,11100,11190,11800,11990,12420,12500,12570,12800,13040,13330,13680,14280,14420,14490,14530]
g_floor_y = [.025] * len(g_floor_x)
g_points = [
 (1030,.75),(15000,.45),(5040,.352),(1960,.338),(2130,.287),(7830,.298),(3850,.26),(10000,.26),(11580,.26),(11990,.246),(14270,.285),(2280,.237),(6350,.241),(7850,.232),(7980,.235),(8200,.222),
 (3550,.222),(2850,.212),(3250,.208),(6850,.204),(7040,.21),(8040,.205),(8380,.208),(8750,.198),(8900,.198),(9570,.212),(9600,.205),(11240,.205),(11920,.213),(5400,.195),(5380,.18),(5250,.17),
 (5100,.175),(1060,.15),(1800,.155),(2030,.185),(3500,.163),(3400,.165),(3850,.175),(4550,.19),(4720,.188),(4520,.162),(4530,.15),(4850,.147),(5500,.137),(6200,.186),(6250,.178),(6310,.172),
 (7410,.187),(7470,.185),(7950,.152),(8420,.172),(9250,.187),(9320,.168),(9040,.157),(10030,.186),(10330,.148),(10330,.135),(11060,.14),(12380,.16),(13700,.17),(12650,.135),(8870,.137),
 (8850,.11),(8870,.097),(8170,.137),(9520,.13),(9530,.125),(11200,.115),(12430,.116),(13760,.106),(11620,.09),(14430,.083),(12640,.08),(11220,.077),(10170,.072),(10060,.065),(9980,.055),(10950,.055),
 (9250,.056),(9400,.056),(8180,.088),(8300,.08),(8430,.068),(8250,.055),(8080,.05),(8030,.045),(14310,.047),(11970,.04),(7850,.12),(7750,.105),(7620,.09),(7500,.07),(7400,.087),(7320,.145),(7280,.125),
 (7400,.13),(7380,.14),(7000,.157),(6880,.12),(6750,.14),(6700,.12),(6660,.15),(6500,.12),(6500,.145),(6300,.125),(6100,.14),(6000,.14),(5960,.12),(5970,.105),(5850,.08),(6150,.135),(6130,.11),
 (5800,.085),(5650,.09),(5600,.135),(5500,.095),(5300,.09),(5150,.125),(5100,.13),(4950,.1),(4850,.11),(4650,.125),(4550,.125),(4450,.11),(4350,.12),(4200,.125),(4100,.13),(4000,.115),(3850,.135),
 (3800,.105),(3500,.12),(2900,.09),(3050,.13),(2400,.13),(2250,.105),(1850,.08),(1650,.065),(1500,.09),(1320,.06),(1100,.08),(1060,.07),(1800,.055),(1980,.09),(2080,.07),(2150,.06),(2720,.085),(2800,.075),
 (2920,.07),(2700,.06),(3000,.055),(3100,.065),(3200,.055),(3300,.06),(3400,.075),(3480,.095),(3600,.09),(3700,.07),(3850,.06),(3950,.08),(4050,.09),(4100,.07),(4200,.05),(4300,.065),(4400,.08),(4500,.045),
 (4600,.085),(4700,.06),(4800,.05),(4900,.065),(5000,.09),(5100,.055),(5200,.075),(5350,.045),(5450,.06),(5550,.05),(5700,.06),(5800,.05),(5900,.045),(6000,.055),(6100,.06),(6200,.08),(6300,.06),(6400,.05),
 (6550,.08),(6600,.06),(6750,.075),(6850,.05),(6950,.08),(7050,.07),(7150,.045),(7250,.05),(7350,.045),(7450,.05),(7650,.075),(7700,.045),(3050,.04),(3250,.035),(3450,.045),(3600,.04),(3750,.05),(3900,.04),
 (4050,.045),(4150,.035),(4300,.04),(4450,.05),(4600,.04),(4750,.035),(4900,.04),(5050,.04),(5250,.035),(5400,.04),(5600,.035),(5750,.04),(5950,.035),(6100,.04),(6300,.04),(6500,.038),(6700,.04),(6900,.038),
 (7100,.04),(7300,.035),(1900,.04),(2050,.04),(2200,.035),(2500,.04),(2650,.045),(2800,.04),(1300,.04),(1650,.04),(7800,.038),(8000,.036),
]
xticks = [5000, 10000, 15000]


def scatter_panel(box, title, points, ylim, yticks=None, ytick_fmt=None, floor=None, log=False):
    # box is left, right, top, bottom in pixels of the image
    left, right, top, bottom = box
    ax = fig.add_axes([left / W, 1 - bottom / H, (right - left) / W, (bottom - top) / H])
    x, y = np.array(points, dtype=float).T
    if floor is not None:
        x = np.concatenate([x, floor[0]])
        y = np.concatenate([y, floor[1]])
    ax.scatter(x, y, s=15, color='black', linewidths=0, zorder=3)
    if log:
        ax.set_yscale('log')
        ax.yaxis.set_minor_formatter(NullFormatter())
    ax.set_xlim(1000, 15000)
    ax.set_ylim(*ylim)
    ax.set_xticks(xticks)
    ax.xaxis.set_major_formatter(StrMethodFormatter('{x:,.0f}'))
    if yticks is not None:
        ax.set_yticks(yticks)
    if ytick_fmt is not None:
        ax.yaxis.set_major_formatter(StrMethodFormatter(ytick_fmt))
    ax.grid(True, color='#b0b0b0', linewidth=0.9)
    ax.set_axisbelow(True)
    ax.tick_params(axis='both', labelsize=15.5, length=3, width=0.8, color='#333333', pad=3)
    ax.tick_params(axis='y', which='minor', length=2, width=0.6, color='#333333')
    for spine in ax.spines.values():
        spine.set_color('#333333')
        spine.set_linewidth(0.9)
    ax.set_xlabel('Yearly consumption [kWh]', fontsize=15, labelpad=5)
    ax.set_title(title, fontsize=18, pad=2)
    return ax


W, H = 1336, 574
fig = plt.figure(figsize=(W / 100, H / 100), dpi=100, facecolor='white')

scatter_panel((43, 397, 37.3, 231), 'b', b_points + b_core, (0.27, 1.034), [0.4, 0.6, 0.8, 1.0], '{x:.1f}')
scatter_panel((491.7, 845.3, 37.3, 231), 'c', c_points + c_core, (-0.006, 0.261), [0.0, 0.1, 0.2], '{x:.1f}')
scatter_panel((940.3, 1293.7, 37.3, 231), 'd', d_points + d_core, (-0.03, 0.806), [0.0, 0.25, 0.5, 0.75], '{x:.2f}')
scatter_panel((267.3, 620.7, 327.7, 522.3), 'f', f_points + f_core, (22, 493), floor=(f_floor_x, f_floor_y), log=True)
scatter_panel((716, 1069.3, 327.7, 522.3), 'g', g_points, (-0.012, 0.788), [0.0, 0.2, 0.4, 0.6], '{x:.1f}', floor=(g_floor_x, g_floor_y))

fig.savefig('out.png', dpi=100)
